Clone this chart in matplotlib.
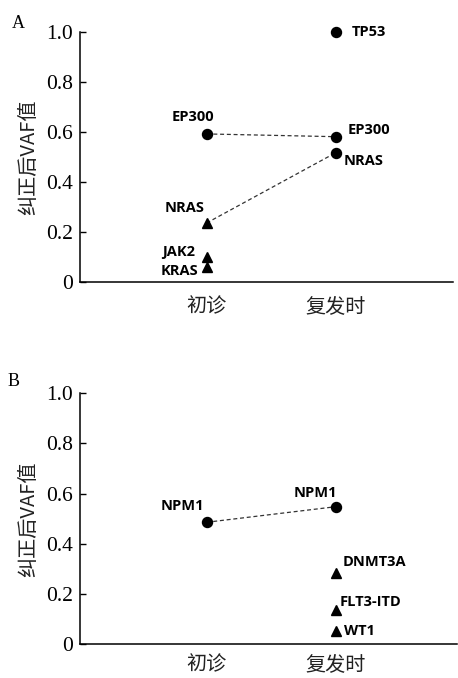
import matplotlib
matplotlib.use("Agg")
import matplotlib.pyplot as plt

categories = ["初诊", "复发时"]

# Panel A
a_circle_genes = ["EP300", "TP53", "EP300", "NRAS"]
a_circle_x = [0, 1, 1, 1]
a_circle_y = [0.592, 1.0, 0.581, 0.517]
a_tri_genes = ["NRAS", "JAK2", "KRAS"]
a_tri_x = [0, 0, 0]
a_tri_y = [0.236, 0.10, 0.06]
a_lines = [([0, 1], [0.592, 0.581]), ([0, 1], [0.236, 0.517])]

# Panel B
b_circle_genes = ["NPM1", "NPM1"]
b_circle_x = [0, 1]
b_circle_y = [0.486, 0.548]
b_tri_genes = ["DNMT3A", "FLT3-ITD", "WT1"]
b_tri_x = [1, 1, 1]
b_tri_y = [0.285, 0.137, 0.053]
b_lines = [([0, 1], [0.486, 0.548])]

yticks = [0, 0.2, 0.4, 0.6, 0.8, 1.0]
yticklabels = ["0", "0.2", "0.4", "0.6", "0.8", "1.0"]
ylabel = "纠正后VAF值"

PX = 72 / 100.0  # pixels -> points

fig = plt.figure(figsize=(4.58, 6.78), dpi=100)
axA = fig.add_axes([0.1747, 0.584, 0.815, 0.369])
axB = fig.add_axes([0.1747, 0.0497, 0.823, 0.3703])

label_font = dict(family=["Open Sans", "DejaVu Sans"], fontweight="bold", fontsize=10.5)

def style(ax, xmax, xpad):
    for s in ["top", "right"]:
        ax.spines[s].set_visible(False)
    ax.spines["left"].set_linewidth(1.1)
    ax.spines["bottom"].set_linewidth(1.1)
    ax.set_ylim(0, 1.0)
    ax.set_xlim(-0.98, xmax)
    ax.set_yticks(yticks)
    ax.set_yticklabels(yticklabels, family=["Liberation Serif"], fontsize=15.5)
    ax.tick_params(axis="y", direction="in", length=4, width=1, pad=5)
    ax.set_xticks([0, 1])
    ax.set_xticklabels(categories, family=["Noto Sans CJK SC", "DejaVu Sans"], fontsize=14.5, color="#222222")
    ax.tick_params(axis="x", length=0, pad=xpad)
    ax.set_ylabel(ylabel, family=["Noto Sans CJK SC", "DejaVu Sans"], fontsize=14.5, color="#222222", labelpad=5)

def draw(ax, lines, cx, cy, tx, ty):
    for xs, ys in lines:
        ax.plot(xs, ys, linestyle=(0, (3.2, 2.2)), color="#333333", linewidth=0.9, zorder=2)
    ax.plot(cx, cy, "o", color="black", markersize=7.2, linestyle="none", zorder=3, clip_on=False)
    ax.plot(tx, ty, "^", color="black", markersize=7.2, linestyle="none", zorder=3, clip_on=False)

def lab(ax, text, x, y, dx, dy, ha):
    ax.annotate(text, (x, y), xytext=(dx * PX, dy * PX), textcoords="offset points",
                ha=ha, va="center", annotation_clip=False, **label_font)

style(axA, 1.91, 10)
draw(axA, a_lines, a_circle_x, a_circle_y, a_tri_x, a_tri_y)
a_circ_off = [(-14, 17, "center"), (16, 0, "left"), (12, 7, "left"), (8, -8, "left")]
for g, x, y, (dx, dy, ha) in zip(a_circle_genes, a_circle_x, a_circle_y, a_circ_off):
    lab(axA, g, x, y, dx, dy, ha)
a_tri_off = [(-22, 15, "center"), (-11, 5, "right"), (-8, -4, "right")]
for g, x, y, (dx, dy, ha) in zip(a_tri_genes, a_tri_x, a_tri_y, a_tri_off):
    lab(axA, g, x, y, dx, dy, ha)

style(axB, 1.94, 7)
draw(axB, b_lines, b_circle_x, b_circle_y, b_tri_x, b_tri_y)
b_circ_off = [(-24.5, 16, "center"), (-20, 14, "center")]
for g, x, y, (dx, dy, ha) in zip(b_circle_genes, b_circle_x, b_circle_y, b_circ_off):
    lab(axB, g, x, y, dx, dy, ha)
b_tri_off = [(7, 11, "left"), (4, 8, "left"), (8, 0, "left")]
for g, x, y, (dx, dy, ha) in zip(b_tri_genes, b_tri_x, b_tri_y, b_tri_off):
    lab(axB, g, x, y, dx, dy, ha)

fig.text(12 / 458, 1 - 23 / 678, "A", family=["Liberation Serif"], fontsize=13, va="center", ha="left")
fig.text(8 / 458, 1 - 382 / 678, "B", family=["Liberation Serif"], fontsize=13, va="center", ha="left")

fig.savefig("out.png", dpi=100)
